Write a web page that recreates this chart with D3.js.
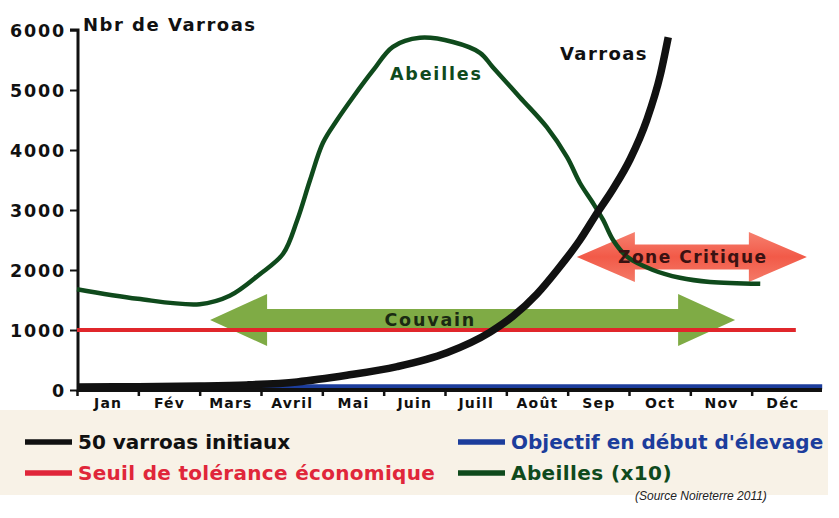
<!DOCTYPE html>
<html>
<head>
<meta charset="utf-8">
<script src="https://cdn.jsdelivr.net/npm/d3@7/dist/d3.min.js"></script>
<style>
html,body{margin:0;padding:0;background:#fff;}
svg{display:block;}
text{font-family:"DejaVu Sans",sans-serif;font-weight:bold;}
</style>
</head>
<body>
<svg id="chart" width="839" height="518"></svg>
<script>
// ---- data ----
const months = ["Jan","Fév","Mars","Avril","Mai","Juin","Juill","Août","Sep","Oct","Nov","Déc"];
const yTicks = [0,1000,2000,3000,4000,5000,6000];
// Varroas (50 initial) : [month position, count]
const varroaMonth = [0, 1, 2, 2.77, 3.59, 4.40, 5.22, 6.03, 6.73, 7.11, 7.50, 7.83, 8.20, 8.48, 8.74, 9.02, 9.29, 9.51, 9.64];
const varroaValue = [50, 55, 65, 85, 135, 245, 390, 620, 960, 1230, 1600, 2000, 2500, 2950, 3350, 3850, 4500, 5250, 5880];
// Abeilles (x10)
const beeMonth = [0, 0.99, 2.0, 2.49, 2.98, 3.36, 3.59, 3.80, 4.01, 4.24, 4.50, 4.83, 5.15, 5.59, 6.13, 6.57, 6.78, 7.22, 7.66, 7.99, 8.20, 8.41, 8.58, 8.74, 8.97, 9.39, 9.83, 10.32, 11.14];
const beeValue = [1680, 1520, 1430, 1570, 1930, 2270, 2830, 3500, 4120, 4500, 4880, 5330, 5720, 5870, 5800, 5620, 5380, 4880, 4380, 3880, 3450, 3120, 2830, 2500, 2220, 2000, 1870, 1800, 1770];
// Seuil de tolérance économique
const seuilValue = 1000;
const seuilRange = [0, 11.72];
// Objectif en début d'élevage
const objectifValue = 55;
const objectifRange = [0, 12.15];
// annotation arrows: [start month, end month, value]
const couvainArrow = [2.17, 10.73, 1167];
const couvainLabelMonth = 5.76;
const critiqueArrow = [8.15, 11.9, 2217];
const legendItems = [
  {label:"50 varroas initiaux", color:"#111111", col:0, row:0, ls:0},
  {label:"Objectif en début d'élevage", color:"#1c3d9c", col:1, row:0, ls:0},
  {label:"Seuil de tolérance économique", color:"#e0263a", col:0, row:1, ls:0.3},
  {label:"Abeilles (x10)", color:"#0f4a1c", col:1, row:1, ls:0.4}
];

// ---- chart ----
const svg = d3.select("#chart");
const x = d3.scaleLinear().domain([0,12]).range([77, 813]);
const y = d3.scaleLinear().domain([0,6000]).range([390, 30]);

// legend background
svg.append("rect").attr("x",0).attr("y",410).attr("width",828).attr("height",85).attr("fill","#f8f2e7");

// arrows
function arrowPath(x0, x1, yc, body, head, hl){
  const p = d3.path();
  p.moveTo(x0, yc);
  p.lineTo(x0+hl, yc-head);
  p.lineTo(x0+hl, yc-body);
  p.lineTo(x1-hl, yc-body);
  p.lineTo(x1-hl, yc-head);
  p.lineTo(x1, yc);
  p.lineTo(x1-hl, yc+head);
  p.lineTo(x1-hl, yc+body);
  p.lineTo(x0+hl, yc+body);
  p.lineTo(x0+hl, yc+head);
  p.closePath();
  return p.toString();
}
const defs = svg.append("defs");
const g1 = defs.append("linearGradient").attr("id","gcrit").attr("x1",0).attr("y1",0).attr("x2",0).attr("y2",1);
g1.append("stop").attr("offset","0%").attr("stop-color","#f6806f");
g1.append("stop").attr("offset","50%").attr("stop-color","#f25a48");
g1.append("stop").attr("offset","100%").attr("stop-color","#f47a68");

svg.append("path")
  .attr("d", arrowPath(x(couvainArrow[0]), x(couvainArrow[1]), y(couvainArrow[2]), 11, 26, 57))
  .attr("fill","#7fab45");
svg.append("path")
  .attr("d", arrowPath(x(critiqueArrow[0]), x(critiqueArrow[1]), y(critiqueArrow[2]), 12.5, 25, 58))
  .attr("fill","url(#gcrit)");

// y axis
const yAxis = svg.append("g").attr("transform","translate(78,0)")
  .call(d3.axisLeft(y).tickValues(yTicks).tickSize(8).tickPadding(4).tickFormat(d3.format("d")));
yAxis.select(".domain").attr("stroke","#111").attr("stroke-width",3).attr("d","M-8,30H0V392");
yAxis.selectAll(".tick line").attr("stroke","#111").attr("stroke-width",2);
yAxis.selectAll(".tick text").attr("fill","#111").style("font-size","17.5px").style("letter-spacing","1.8px").attr("dy","0.36em");

// series lines
const beeLine = d3.line().x(d=>x(d[0])).y(d=>y(d[1])).curve(d3.curveCatmullRom.alpha(0.5));
const varroaLine = d3.line().x(d=>x(d[0])).y(d=>y(d[1])).curve(d3.curveMonotoneX);

// objectif (blue)
svg.append("line").attr("x1",x(objectifRange[0])).attr("x2",x(objectifRange[1]))
  .attr("y1",y(objectifValue)).attr("y2",y(objectifValue))
  .attr("stroke","#1c3d9c").attr("stroke-width",5);

// x axis
const xAxis = svg.append("g").attr("transform","translate(0,390)")
  .call(d3.axisBottom(x).tickValues(d3.range(0,12)).tickSize(6).tickFormat(""));
xAxis.select(".domain").attr("stroke","#111").attr("stroke-width",4).attr("d","M77,0H822");
xAxis.selectAll(".tick line").attr("stroke","#111").attr("stroke-width",2.5);
svg.append("g").attr("transform","translate(0,390)")
  .call(d3.axisBottom(x).tickValues(months.map((m,i)=>i+0.5)).tickSize(0).tickPadding(8).tickFormat((d,i)=>months[i]))
  .call(g=>g.select(".domain").remove())
  .selectAll("text").attr("fill","#111").style("font-size","14px").style("letter-spacing","1.2px");

// seuil (red)
svg.append("line").attr("x1",x(seuilRange[0])).attr("x2",x(seuilRange[1]))
  .attr("y1",y(seuilValue)).attr("y2",y(seuilValue))
  .attr("stroke","#e0262b").attr("stroke-width",4);

// bees
svg.append("path").datum(beeMonth.map((m,i)=>[m,beeValue[i]]))
  .attr("d",beeLine).attr("fill","none").attr("stroke","#0f4a1c").attr("stroke-width",4.5).attr("stroke-linejoin","round");

// varroas
svg.append("path").datum(varroaMonth.map((m,i)=>[m,varroaValue[i]]))
  .attr("d",varroaLine).attr("fill","none").attr("stroke","#111").attr("stroke-width",7.5).attr("stroke-linecap","butt");

// texts
svg.append("text").attr("x",83).attr("y",31).attr("fill","#111").style("font-size","18px").style("letter-spacing","1.5px").text("Nbr de Varroas");
svg.append("text").attr("x",560).attr("y",60).attr("fill","#111").style("font-size","18px").style("letter-spacing","1.4px").text("Varroas");
svg.append("text").attr("x",390).attr("y",80).attr("fill","#0f4a1c").style("font-size","17.5px").style("letter-spacing","1.8px").text("Abeilles");
svg.append("text").attr("x",x(couvainLabelMonth)).attr("y",y(couvainArrow[2])+6)
  .attr("text-anchor","middle").attr("fill","#1a2a12").style("font-size","17.5px").style("letter-spacing","1.8px").text("Couvain");
svg.append("text").attr("x",x((critiqueArrow[0]+critiqueArrow[1])/2)+1).attr("y",y(critiqueArrow[2])+6)
  .attr("text-anchor","middle").attr("fill","#3a1212").style("font-size","17px").style("letter-spacing","1.5px").text("Zone Critique");

// legend
const lg = svg.append("g");
const colX = [25, 458], rowY = [442, 473];
legendItems.forEach(it=>{
  const lx = colX[it.col], ly = rowY[it.row];
  lg.append("line").attr("x1",lx).attr("x2",lx+47).attr("y1",ly).attr("y2",ly)
    .attr("stroke",it.color).attr("stroke-width",5.5);
  lg.append("text").attr("x",lx+53).attr("y",ly+7).attr("fill",it.color)
    .style("font-size","20px").style("letter-spacing",it.ls+"px").text(it.label);
});
svg.append("text").attr("x",635).attr("y",500).attr("fill","#222")
  .style("font-family","'Liberation Sans',Arial,sans-serif").style("font-weight","normal").style("font-style","italic").style("font-size","12px")
  .text("(Source Noireterre 2011)");
</script>
</body>
</html>
